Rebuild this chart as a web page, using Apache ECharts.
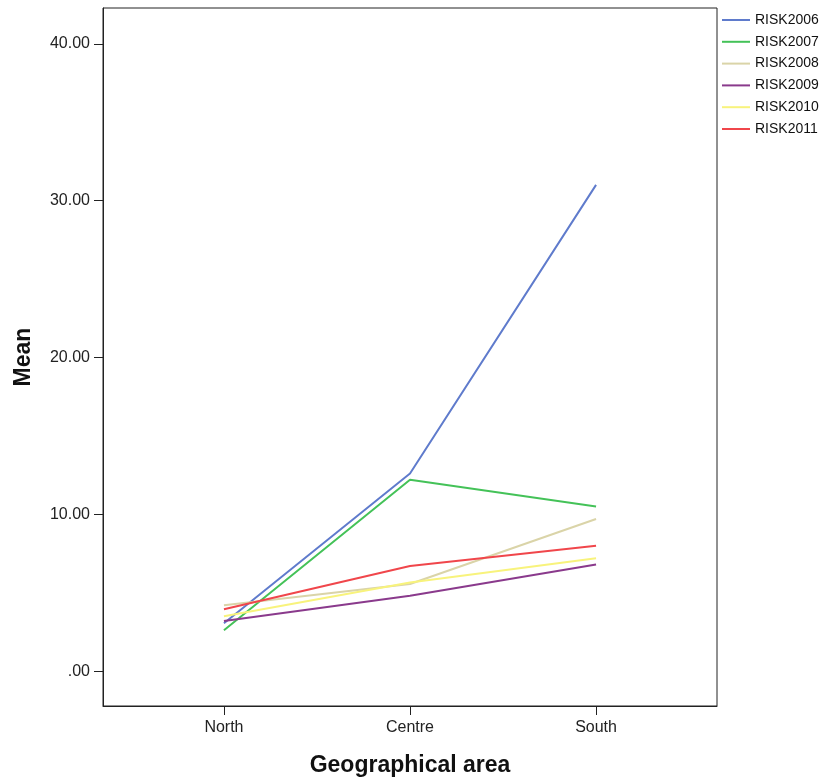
<!DOCTYPE html>
<html><head><meta charset="utf-8">
<script src="https://cdn.jsdelivr.net/npm/echarts@6/dist/echarts.min.js"></script>
<style>html,body{margin:0;padding:0;background:#fff}#c{width:829px;height:782px}</style>
</head><body><div id="c"></div>
<script>
const categories = ['North', 'Centre', 'South'];
const seriesNames = ['RISK2006', 'RISK2007', 'RISK2008', 'RISK2009', 'RISK2010', 'RISK2011'];
const risk2006 = [3.05, 12.6, 31.0];
const risk2007 = [2.6, 12.2, 10.5];
const risk2008 = [4.2, 5.55, 9.7];
const risk2009 = [3.2, 4.8, 6.8];
const risk2010 = [3.5, 5.65, 7.2];
const risk2011 = [3.95, 6.7, 8.0];
const yTicks = [0, 10, 20, 30, 40];
const colors = ['#5f7bcc', '#44c258', '#dad4a8', '#8a3a8c', '#f8f37c', '#f0464b'];

const allValues = [risk2006, risk2007, risk2008, risk2009, risk2010, risk2011];
const font = 'Liberation Sans, Arial, sans-serif';
const chart = echarts.init(document.getElementById('c'));
chart.setOption({
  animation: false,
  color: colors,
  grid: { left: 103, top: 8, right: 112, bottom: 74, show: true, borderColor: '#222', borderWidth: 1 },
  legend: {
    orient: 'vertical', left: 722, top: 13, padding: 0, itemWidth: 28, itemHeight: 2, itemGap: 7.8,
    icon: 'rect',
    textStyle: { fontFamily: font, fontSize: 14, lineHeight: 14, color: '#111' },
    data: seriesNames
  },
  xAxis: {
    type: 'value', min: -0.65, max: 2.65,
    name: 'Geographical area', nameLocation: 'middle', nameGap: 48,
    nameTextStyle: { fontFamily: font, fontSize: 23, fontWeight: 'bold', color: '#111' },
    axisLine: { show: true, onZero: false, lineStyle: { color: '#222' } },
    axisTick: { show: true, customValues: [0, 1, 2], length: 9, lineStyle: { color: '#222' } },
    axisLabel: { customValues: [0, 1, 2], formatter: v => categories[Math.round(v)], margin: 14,
      fontFamily: font, fontSize: 16, color: '#222' },
    splitLine: { show: false }
  },
  yAxis: {
    type: 'value', min: -2.225, max: 42.28,
    name: 'Mean', nameLocation: 'middle', nameGap: 68, nameRotate: 90,
    nameTextStyle: { fontFamily: font, fontSize: 23, fontWeight: 'bold', color: '#111' },
    axisLine: { show: true, onZero: false, lineStyle: { color: '#222' } },
    axisTick: { show: true, customValues: yTicks, length: 9, lineStyle: { color: '#222' } },
    axisLabel: { customValues: yTicks, formatter: v => v === 0 ? '.00' : v.toFixed(2), margin: 13,
      fontFamily: font, fontSize: 16, color: '#222' },
    splitLine: { show: false }
  },
  series: seriesNames.map((n, i) => ({
    name: n, type: 'line', symbol: 'none',
    lineStyle: { width: 2, color: colors[i] },
    itemStyle: { color: colors[i] },
    data: allValues[i].map((v, j) => [j, v])
  }))
});
</script></body></html>
